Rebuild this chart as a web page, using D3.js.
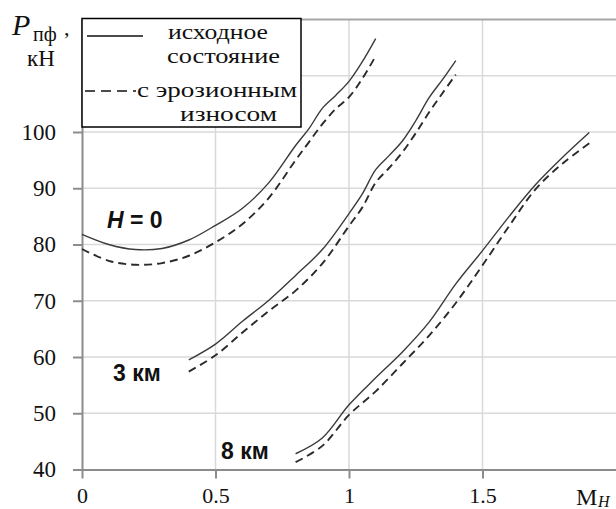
<!DOCTYPE html>
<html><head><meta charset="utf-8">
<script src="https://cdn.jsdelivr.net/npm/d3@7"></script>
<style>body{margin:0;background:#fff}svg{display:block}</style>
</head><body>
<svg id="c" width="616" height="509"></svg>
<script>
// ---- data ----
const xTickValues = [0, 0.5, 1, 1.5];
const xTickLabels = ["0", "0.5", "1", "1.5"];
const yTickValues = [40, 50, 60, 70, 80, 90, 100];
const yGridValues = [50, 60, 70, 80, 90, 100, 110];

const machH0 = [0, 0.1, 0.2, 0.3, 0.4, 0.5, 0.6, 0.7, 0.8, 0.85, 0.9, 0.95, 1.0, 1.05, 1.1];
const forceH0Initial = [81.8, 80.0, 79.1, 79.3, 80.8, 83.4, 86.4, 91.0, 97.6, 100.6, 104.2, 106.5, 109.0, 112.5, 116.6];
const forceH0Eroded  = [79.2, 77.1, 76.4, 76.7, 78.0, 80.4, 83.6, 88.3, 95.0, 98.2, 101.4, 104.1, 106.2, 109.5, 113.5];

const machH3 = [0.4, 0.5, 0.6, 0.7, 0.8, 0.9, 1.0, 1.05, 1.1, 1.15, 1.2, 1.25, 1.3, 1.35, 1.4];
const forceH3Initial = [59.5, 62.3, 66.3, 70.1, 74.5, 79.1, 85.5, 89.0, 93.3, 95.8, 98.4, 102.0, 106.1, 109.3, 112.7];
const forceH3Eroded  = [57.4, 60.3, 64.3, 68.2, 71.8, 76.6, 83.3, 86.6, 91.0, 93.6, 96.4, 99.8, 103.5, 106.9, 110.2];

const machH8 = [0.8, 0.9, 1.0, 1.1, 1.2, 1.3, 1.4, 1.5, 1.6, 1.7, 1.8, 1.9];
const forceH8Initial = [42.8, 45.6, 51.5, 56.3, 60.9, 66.2, 73.0, 78.9, 85.0, 90.7, 95.5, 99.9];
const forceH8Eroded  = [41.3, 44.2, 49.7, 53.9, 58.8, 63.8, 69.6, 76.3, 83.3, 89.9, 94.4, 98.0];

const legendLabels = [["исходное", "состояние"], ["с эрозионным", "износом"]];
const curveLabels = ["3 км", "8 км"];

// ---- chart ----
const svg = d3.select("#c");
svg.append("rect").attr("width", 616).attr("height", 509).attr("fill", "#fff");

const x = d3.scaleLinear().domain([0, 2]).range([82, 616]);
const y = d3.scaleLinear().domain([40, 120]).range([469.5, 19.5]);

// grid
const grid = svg.append("g").attr("stroke", "#d9d9d9").attr("stroke-width", 1.5);
grid.selectAll("line.h").data(yGridValues).join("line")
  .attr("x1", x(0)).attr("x2", x(2)).attr("y1", d => y(d)).attr("y2", d => y(d));
grid.selectAll("line.v").data([0.5, 1, 1.5]).join("line")
  .attr("x1", d => x(d)).attr("x2", d => x(d)).attr("y1", y(40)).attr("y2", y(120));

// top border
svg.append("line").attr("x1", x(0)).attr("x2", x(2)).attr("y1", y(120)).attr("y2", y(120))
  .attr("stroke", "#a6a6a6").attr("stroke-width", 2);

const serif = "'Liberation Serif','Times New Roman',serif";
const sans = "'Liberation Sans',Arial,sans-serif";

// axes
const yAxis = d3.axisLeft(y).tickValues(yTickValues).tickSize(9).tickSizeOuter(0).tickPadding(17).tickFormat(d3.format("d"));
const gy = svg.append("g").attr("transform", `translate(${x(0)},0)`).call(yAxis);
const xAxis = d3.axisBottom(x).tickValues(xTickValues).tickSize(9).tickSizeOuter(0).tickPadding(9)
  .tickFormat((d, i) => xTickLabels[i]);
const gx = svg.append("g").attr("transform", `translate(0,${y(40)})`).call(xAxis);
[gx, gy].forEach(g => {
  g.select(".domain").attr("stroke", "#8c8c8c").attr("stroke-width", 2);
  g.selectAll(".tick line").attr("stroke", "#8c8c8c").attr("stroke-width", 2);
  g.selectAll(".tick text").attr("font-family", serif).attr("font-size", 23).attr("fill", "#111");
});
gx.selectAll(".tick text").attr("font-size", 22);

// curves
const line = d3.line().x(d => x(d[0])).y(d => y(d[1])).curve(d3.curveCatmullRom.alpha(0.5));
const series = [
  [machH0, forceH0Initial, false], [machH0, forceH0Eroded, true],
  [machH3, forceH3Initial, false], [machH3, forceH3Eroded, true],
  [machH8, forceH8Initial, false], [machH8, forceH8Eroded, true]
];
series.forEach(([mx, fy, dashed]) => {
  svg.append("path").datum(mx.map((m, i) => [m, fy[i]]))
    .attr("d", line).attr("fill", "none")
    .attr("stroke", dashed ? "#2a2a2a" : "#3a3a3a")
    .attr("stroke-width", dashed ? 1.9 : 1.4)
    .attr("stroke-dasharray", dashed ? "8,5" : null);
});

// curve labels
const hl = svg.append("text").attr("x", 107).attr("y", 228)
  .attr("font-family", sans).attr("font-weight", "bold").attr("font-size", 23).attr("fill", "#111");
hl.append("tspan").attr("font-style", "italic").text("H");
hl.append("tspan").text(" = 0");
svg.append("text").attr("x", 113).attr("y", 381).text(curveLabels[0])
  .attr("font-family", sans).attr("font-weight", "bold").attr("font-size", 23).attr("fill", "#111");
svg.append("text").attr("x", 221).attr("y", 459).text(curveLabels[1])
  .attr("font-family", sans).attr("font-weight", "bold").attr("font-size", 23).attr("fill", "#111");

// legend
svg.append("rect").attr("x", 82).attr("y", 18.5).attr("width", 219).attr("height", 108.5)
  .attr("fill", "#fff").attr("stroke", "#000").attr("stroke-width", 1.5);
svg.append("line").attr("x1", 87).attr("x2", 143).attr("y1", 36).attr("y2", 36)
  .attr("stroke", "#111").attr("stroke-width", 1.5);
svg.append("line").attr("x1", 85).attr("x2", 136).attr("y1", 91).attr("y2", 91)
  .attr("stroke", "#111").attr("stroke-width", 1.5).attr("stroke-dasharray", "10,6");
const legPos = [[[168, 39, 100], [167, 63, 113]], [[137, 97, 160], [180, 121, 97]]];
legendLabels.forEach((pair, i) => pair.forEach((t, j) => {
  const p = legPos[i][j];
  svg.append("text").attr("x", p[0]).attr("y", p[1]).text(t)
    .attr("textLength", p[2]).attr("lengthAdjust", "spacingAndGlyphs")
    .attr("font-family", serif).attr("font-size", 21).attr("fill", "#111");
}));

// axis titles
svg.append("text").attr("x", 12).attr("y", 35).text("P")
  .attr("font-family", serif).attr("font-style", "italic").attr("font-size", 30).attr("fill", "#111");
svg.append("text").attr("x", 33).attr("y", 41).text("пф")
  .attr("font-family", serif).attr("font-size", 20).attr("fill", "#111");
svg.append("text").attr("x", 64).attr("y", 35).text(",")
  .attr("font-family", serif).attr("font-size", 22).attr("fill", "#111");
svg.append("text").attr("x", 27).attr("y", 66).text("кН")
  .attr("font-family", serif).attr("font-size", 23).attr("fill", "#111");
svg.append("text").attr("x", 576).attr("y", 505).text("M")
  .attr("font-family", serif).attr("font-size", 24).attr("fill", "#111");
svg.append("text").attr("x", 598).attr("y", 507).text("H")
  .attr("font-family", serif).attr("font-style", "italic").attr("font-size", 16).attr("fill", "#111");
</script>
</body></html>
